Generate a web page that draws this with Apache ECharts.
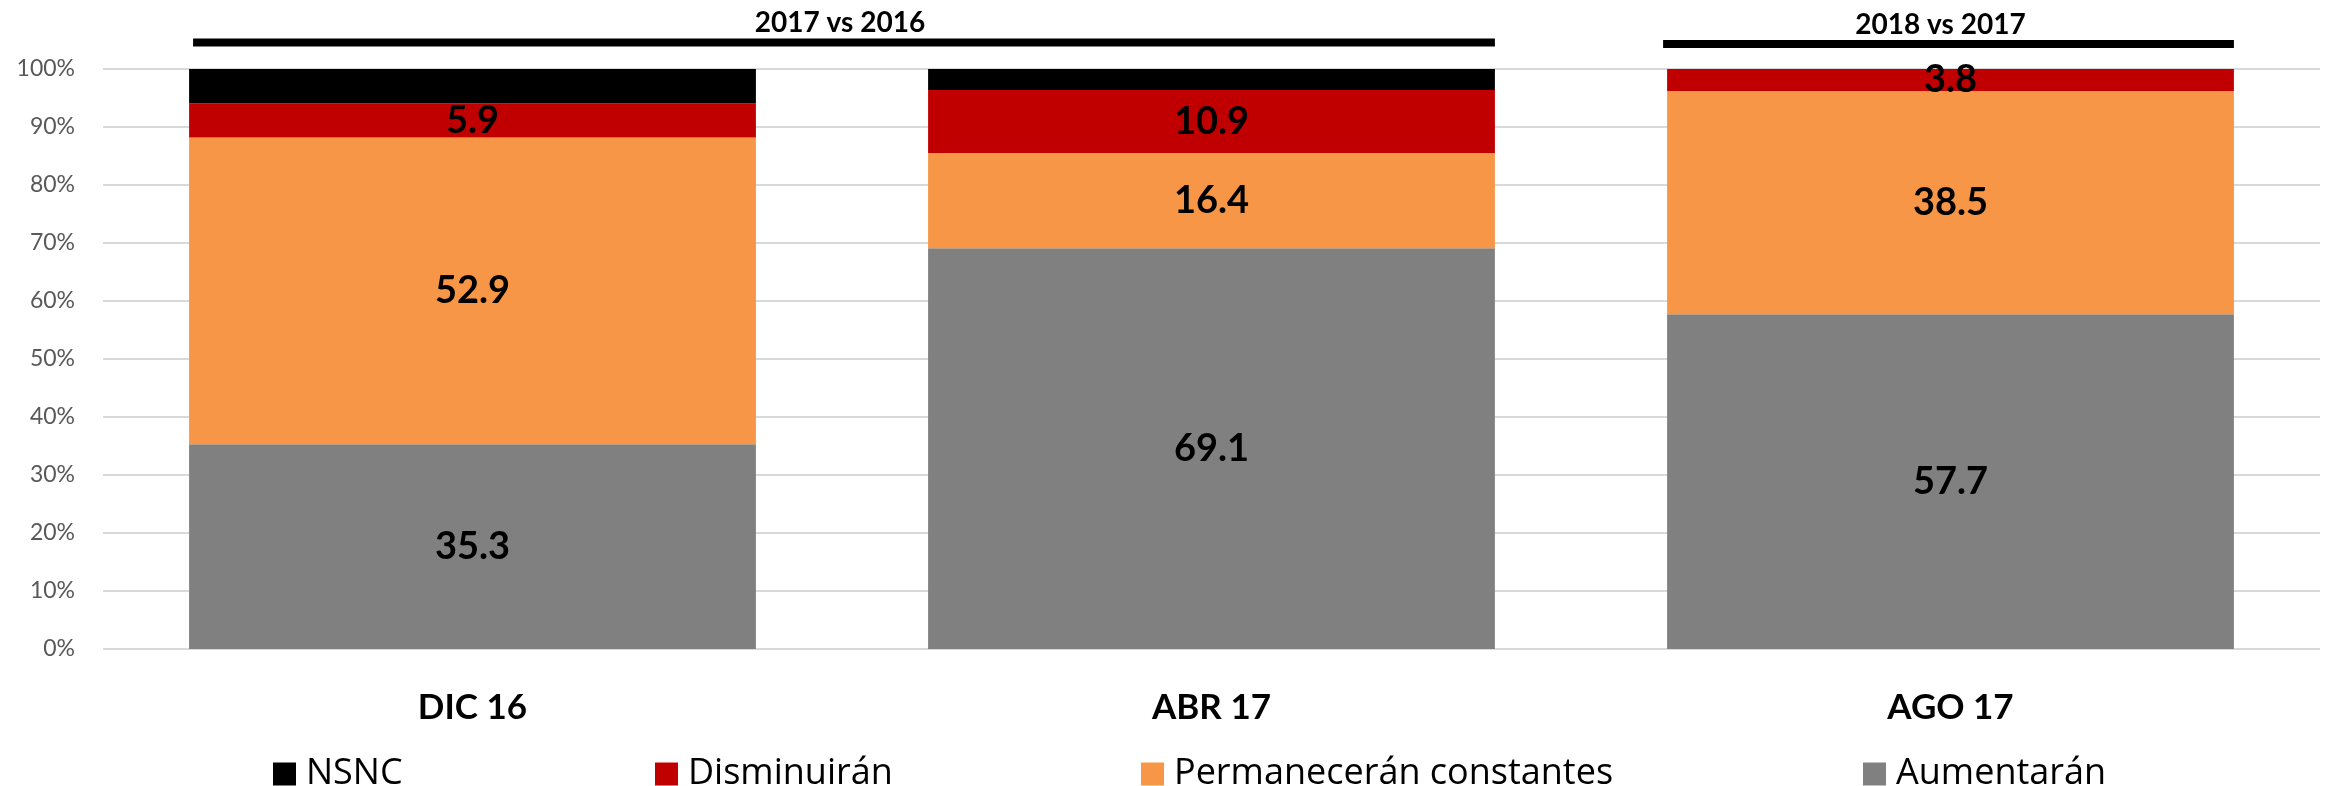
<!DOCTYPE html>
<html>
<head>
<meta charset="utf-8">
<title>Expectativas</title>
<script src="https://cdn.jsdelivr.net/npm/echarts@6/dist/echarts.min.js"></script>
<style>
  html, body { margin: 0; padding: 0; background: #fff; }
  #chart { width: 2331px; height: 786px; }
</style>
</head>
<body>
<div id="chart"></div>
<script>
const categories = ['DIC 16', 'ABR 17', 'AGO 17']
const aumentaran = [35.3, 69.1, 57.7]
const permaneceran = [52.9, 16.4, 38.5]
const disminuiran = [5.9, 10.9, 3.8]
const nsnc = [5.9, 3.6, 0]
const yTicks = [0, 10, 20, 30, 40, 50, 60, 70, 80, 90, 100]
const legendNames = ['NSNC', 'Disminuirán', 'Permanecerán constantes', 'Aumentarán']
// brackets above the bars: [first category, last category, text]
const brackets = [
  ['DIC 16', 'ABR 17', '2017 vs 2016'],
  ['AGO 17', 'AGO 17', '2018 vs 2017'],
]

const font = 'Lato, "Open Sans", sans-serif'
const legendFont = '"Open Sans", Lato, sans-serif'
const colors = {
  'Aumentarán': '#808080',
  'Permanecerán constantes': '#F79646',
  'Disminuirán': '#C00000',
  'NSNC': '#000000',
}
const gap = 0.233
const legendLeft = [268, 650, 1136, 1858]

const chart = echarts.init(document.getElementById('chart'))

function barSeries(name, data, showLabel) {
  return {
    name,
    type: 'bar',
    stack: 'total',
    barCategoryGap: (gap * 100) + '%',
    data,
    itemStyle: { color: colors[name] },
    label: {
      show: showLabel,
      position: 'inside',
      color: '#000',
      fontFamily: font,
      fontWeight: 'bold',
      fontSize: 38,
    },
  }
}

const option = {
  animation: false,
  grid: { left: 103, right: 11, top: 69, bottom: 137 },
  legend: legendNames.map((name, i) => ({
    data: [name],
    left: legendLeft[i],
    top: 749,
    itemWidth: 23,
    itemHeight: 23,
    icon: 'rect',
    selectedMode: false,
    textStyle: {
      fontFamily: legendFont,
      fontSize: 36,
      color: '#000',
      lineHeight: 40,
      padding: [0, 0, 0, 5],
    },
  })),
  xAxis: {
    type: 'category',
    data: categories,
    axisLine: { show: false },
    axisTick: { show: false },
    axisLabel: {
      margin: 41,
      color: '#000',
      fontFamily: font,
      fontWeight: 'bold',
      fontSize: 35,
      lineHeight: 35,
    },
  },
  yAxis: {
    type: 'value',
    min: yTicks[0],
    max: yTicks[yTicks.length - 1],
    interval: yTicks[1] - yTicks[0],
    axisLine: { show: false },
    axisTick: { show: false },
    axisLabel: {
      margin: 28,
      formatter: '{value}%',
      color: '#595959',
      fontFamily: font,
      fontSize: 23,
    },
    splitLine: { lineStyle: { color: '#D9D9D9', width: 2 } },
  },
  series: [
    barSeries('Aumentarán', aumentaran, true),
    barSeries('Permanecerán constantes', permaneceran, true),
    barSeries('Disminuirán', disminuiran, true),
    barSeries('NSNC', nsnc, false),
  ],
}
chart.setOption(option)

// bracket lines and their captions, placed from the category axis
const x0 = chart.convertToPixel({ xAxisIndex: 0 }, categories[0])
const x1 = chart.convertToPixel({ xAxisIndex: 0 }, categories[1])
const halfBar = (x1 - x0) * (1 - gap) / 2
const graphics = []
brackets.forEach(([from, to, text], i) => {
  const left = chart.convertToPixel({ xAxisIndex: 0 }, from) - halfBar + (i === 0 ? 4 : -4)
  const right = chart.convertToPixel({ xAxisIndex: 0 }, to) + halfBar
  const y = i === 0 ? 42.5 : 44
  graphics.push({
    type: 'line',
    shape: { x1: left, y1: y, x2: right, y2: y },
    style: { stroke: '#000', lineWidth: 8 },
  })
  graphics.push({
    type: 'text',
    x: (left + right) / 2 - (i === 0 ? 4 : 8),
    y: i === 0 ? 23 : 25,
    style: {
      text,
      fill: '#000',
      font: 'bold 28px ' + font,
      textAlign: 'center',
      textVerticalAlign: 'middle',
    },
  })
})
chart.setOption({ graphic: graphics })
</script>
</body>
</html>
